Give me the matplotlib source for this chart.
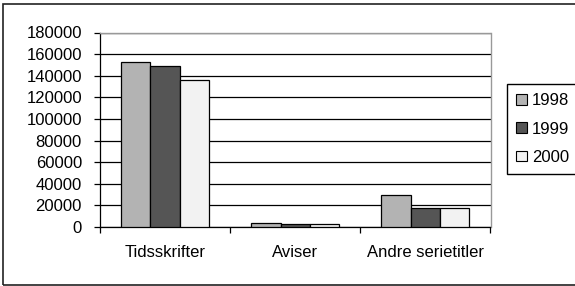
import matplotlib
matplotlib.use("Agg")
import matplotlib.pyplot as plt
from matplotlib.patches import Rectangle, Patch
import numpy as np

plt.rcParams['font.family'] = ['Liberation Sans', 'DejaVu Sans']

categories = ["Tidsskrifter", "Aviser", "Andre serietitler"]
years = ["1998", "1999", "2000"]
v1998 = [153000, 4000, 29500]
v1999 = [149000, 3000, 17500]
v2000 = [136000, 2800, 17500]
colors = ["#b3b3b3", "#555555", "#f2f2f2"]
yticks = list(range(0, 180001, 20000))

W, H = 575, 286
FS = 12
fig = plt.figure(figsize=(W / 100, H / 100), dpi=100)
fig.patch.set_facecolor("white")

# outer border
fig.patches.append(Rectangle((3 / W, 1 - 284.5 / H), (600 - 3) / W, (284.5 - 4) / H,
                             transform=fig.transFigure, fill=False,
                             edgecolor="#222222", linewidth=1.2, clip_on=True))

left, right, top, bottom = 100, 490.5, 32.5, 227
ax = fig.add_axes([left / W, 1 - bottom / H, (right - left) / W, (bottom - top) / H])

x = np.arange(len(categories))
bw = 0.225
series = [v1998, v1999, v2000]
for i, (vals, c) in enumerate(zip(series, colors)):
    ax.bar(x + (i - 1) * bw, vals, width=bw, color=c, edgecolor="black",
           linewidth=0.9, zorder=3, label=years[i])

ax.set_xlim(-0.5, len(categories) - 0.5)
ax.set_ylim(0, 180000)
ax.set_yticks(yticks)
ax.set_yticklabels([str(t) for t in yticks], fontsize=FS)
ax.yaxis.grid(True, color="black", linewidth=0.9, zorder=0)
ax.set_axisbelow(True)

ax.set_xticks(np.arange(len(categories) + 1) - 0.5)
ax.set_xticklabels([])
ax.set_xticks(x, minor=True)
ax.set_xticklabels(categories, minor=True, fontsize=FS)
ax.tick_params(axis="x", which="major", direction="out", length=4, width=0.9, color="black")
ax.tick_params(axis="x", which="minor", length=0, pad=13)
ax.tick_params(axis="y", direction="out", length=4, width=0.9, pad=9)

for s in ["top", "right"]:
    ax.spines[s].set_color("#999999")
    ax.spines[s].set_linewidth(1.0)
ax.spines["left"].set_color("black")
ax.spines["bottom"].set_color("black")
ax.spines["left"].set_linewidth(0.9)
ax.spines["bottom"].set_linewidth(0.9)

handles = [Patch(facecolor=c, edgecolor="black", linewidth=0.8) for c in colors]
leg = fig.legend(handles, years, loc="upper left",
                 bbox_to_anchor=(507 / W, 1 - 84 / H), fontsize=FS,
                 frameon=True, fancybox=False, edgecolor="black", framealpha=1,
                 handlelength=0.65, handleheight=0.6, handletextpad=0.3,
                 labelspacing=0.8, borderpad=0.55, borderaxespad=0)
leg.get_frame().set_linewidth(1.0)

fig.savefig("out.png", dpi=100)
